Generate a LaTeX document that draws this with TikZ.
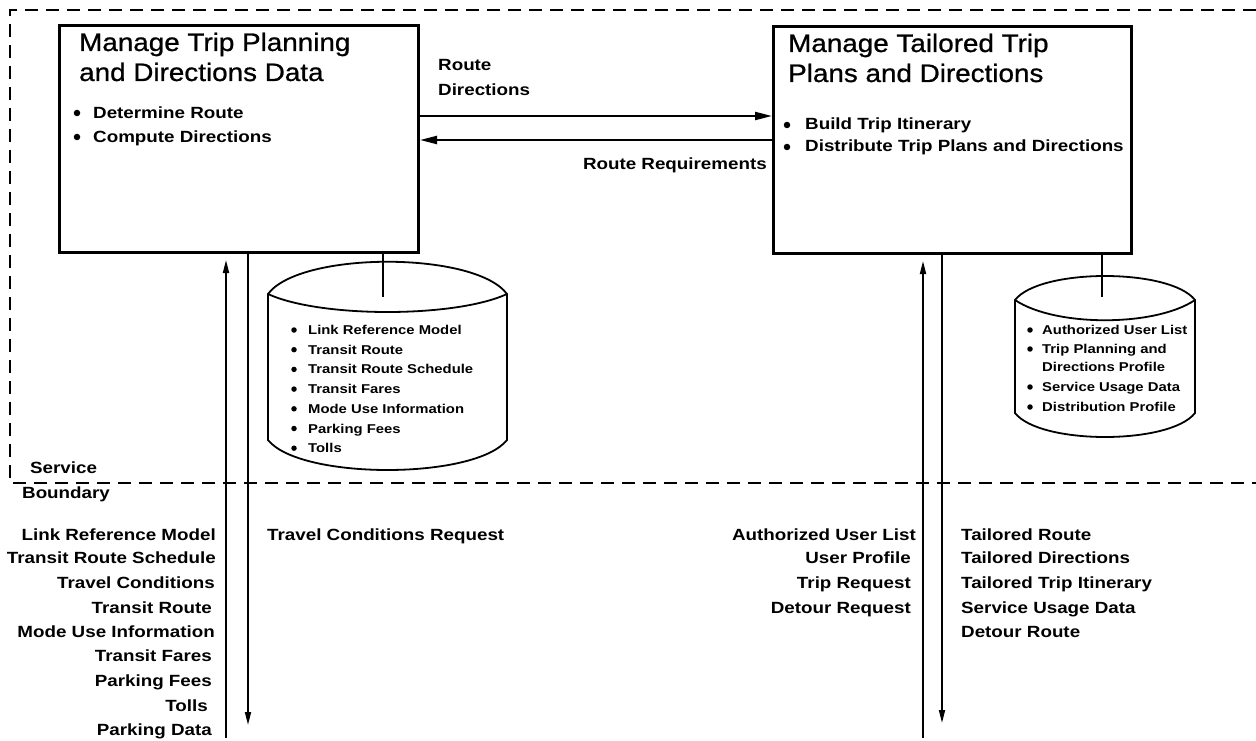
\documentclass[tikz,border=0pt]{standalone}
\usepackage{fontspec}
\setmainfont{Liberation Sans}
\newfontfamily\lblfam[FakeStretch=1.16]{Liberation Sans}
\newfontfamily\ttlfam[FakeStretch=1.1,FakeBold=0.8]{Liberation Sans}
\usetikzlibrary{arrows.meta}
\begin{document}
\begin{tikzpicture}[x=1pt,y=-1pt,
  ttl/.style={anchor=base west, inner sep=0pt, font=\ttlfam\fontsize{25.3}{30}\selectfont},
  lbl/.style={anchor=base west, inner sep=0pt, font=\lblfam\bfseries\fontsize{16.2}{19}\selectfont},
  lblr/.style={lbl, anchor=base east},
  cyltxt/.style={anchor=base west, inner sep=0pt, font=\lblfam\bfseries\fontsize{12.8}{15}\selectfont},
  bdot/.style={circle, fill, draw=none, inner sep=0pt, minimum size=6.5pt},
  sdot/.style={circle, fill, draw=none, inner sep=0pt, minimum size=5.5pt},
  procbox/.style={draw, line width=3pt, anchor=north west, inner sep=0pt},
  bound/.style={line width=2.5pt, dash pattern=on 13pt off 8pt},
  flow/.style={line width=2.2pt, -{Triangle[length=17pt,width=8pt]}},
  vflow/.style={line width=1.7pt, -{Triangle[length=13pt,width=6pt]}},
  store/.style={line width=1.8pt},
  link/.style={line width=1.7pt}]
\useasboundingbox (0,0) rectangle (1256,741);

% service boundary
\draw[bound] (1256,10) -- (10,10) -- (10,483) -- (1256,483);
\node[lbl] (svc) at (30,473) {Service};
\node[lbl] (bnd) at (22,498) {Boundary};

% process boxes
\node[procbox, minimum width=359pt, minimum height=227pt] (A) at (58,24) {};
\node[procbox, minimum width=358pt, minimum height=227pt] (B) at (772,25) {};

\node[ttl] (A1) at (79,51) {Manage Trip Planning};
\node[ttl] (A2) at (79,81) {and Directions Data};
\node[bdot] (Ad1) at (77,113) {};
\node[lbl] (Ab1) at (93,118.5) {Determine Route};
\node[bdot] (Ad2) at (77,137) {};
\node[lbl] (Ab2) at (93,142.5) {Compute Directions};

\node[ttl] (B1) at (788,52) {Manage Tailored Trip};
\node[ttl] (B2) at (788,82) {Plans and Directions};
\node[bdot] (Bd1) at (787,125) {};
\node[lbl] (Bb1) at (805,129.5) {Build Trip Itinerary};
\node[bdot] (Bd2) at (787,147) {};
\node[lbl] (Bb2) at (805,152) {Distribute Trip Plans and Directions};

% flows between boxes
\coordinate (yRD) at (600,116);
\coordinate (yRR) at (600,140);
\draw[flow] (A.east |- yRD) -- (B.west |- yRD);
\draw[flow] (B.west |- yRR) -- (A.east |- yRR);
\node[lbl] (rd1) at (438,70.5) {Route};
\node[lbl] (rd2) at (438,95.5) {Directions};
\node[lblr] (rr) at (767,169.5) {Route Requirements};

% left data store
\draw[store] (268,294) .. controls (300,251) and (475,251) .. (507,294)
  -- (507,440) .. controls (475,480) and (300,480) .. (268,440) -- cycle;
\draw[store] (268,294) .. controls (320,318) and (455,318) .. (507,294);
\coordinate (c1) at (383,297);
\draw[link] (A.south -| c1) -- (c1);
\foreach \t [count=\i from 0] in {Link Reference Model,Transit Route,Transit Route Schedule,Transit Fares,Mode Use Information,Parking Fees,Tolls}{
  \node[sdot] (s1d\i) at (294,330+19.7*\i) {};
  \node[cyltxt] (s1t\i) at (308,334.5+19.7*\i) {\t};
}

% right data store
\draw[store] (1015,300) .. controls (1040,268) and (1170,268) .. (1195,300)
  -- (1195,413) .. controls (1170,445) and (1040,445) .. (1015,413) -- cycle;
\draw[store] (1015,300) .. controls (1055,327) and (1155,327) .. (1195,300);
\coordinate (c2) at (1102,297);
\draw[link] (B.south -| c2) -- (c2);
\node[sdot] (s2d0) at (1030,330) {};
\node[cyltxt] (s2t0) at (1042,334.5) {Authorized User List};
\node[sdot] (s2d1) at (1030,349) {};
\node[cyltxt] (s2t1) at (1042,353.5) {Trip Planning and};
\node[cyltxt] (s2t1b) at (1042,371.5) {Directions Profile};
\node[sdot] (s2d2) at (1030,387) {};
\node[cyltxt] (s2t2) at (1042,391.5) {Service Usage Data};
\node[sdot] (s2d3) at (1030,407) {};
\node[cyltxt] (s2t3) at (1042,411.5) {Distribution Profile};

% vertical flows, left
\coordinate (uL) at (226,738);
\coordinate (dL) at (248,725);
\draw[vflow, shorten >=6pt] (uL) -- (A.south -| uL);
\draw[vflow] (A.south -| dL) -- (dL);
% vertical flows, right
\coordinate (uR) at (923,738);
\coordinate (dR) at (942,723);
\draw[vflow, shorten >=6pt] (uR) -- (B.south -| uR);
\draw[vflow] (B.south -| dR) -- (dR);

% external flow labels, left
\node[lblr] (l0) at (216,540.8) {Link Reference Model};
\node[lblr] (l1) at (216,563.8) {Transit Route Schedule};
\node[lblr] (l2) at (215,588.8) {Travel Conditions};
\node[lblr] (l3) at (212,613.8) {Transit Route};
\node[lblr] (l4) at (215,637.8) {Mode Use Information};
\node[lblr] (l5) at (212,661.8) {Transit Fares};
\node[lblr] (l6) at (212,686.8) {Parking Fees};
\node[lblr] (l7) at (208,711.8) {Tolls};
\node[lblr] (l8) at (212,735.8) {Parking Data};
\node[lbl] (tcr) at (267,540.8) {Travel Conditions Request};

% external flow labels, right
\node[lblr] (r0) at (916,540.8) {Authorized User List};
\node[lblr] (r1) at (911,563.8) {User Profile};
\node[lblr] (r2) at (911,588.8) {Trip Request};
\node[lblr] (r3) at (911,613.8) {Detour Request};
\node[lbl] (o0) at (961,540.8) {Tailored Route};
\node[lbl] (o1) at (961,563.8) {Tailored Directions};
\node[lbl] (o2) at (961,588.8) {Tailored Trip Itinerary};
\node[lbl] (o3) at (961,613.8) {Service Usage Data};
\node[lbl] (o4) at (961,637.8) {Detour Route};
\end{tikzpicture}
\end{document}
